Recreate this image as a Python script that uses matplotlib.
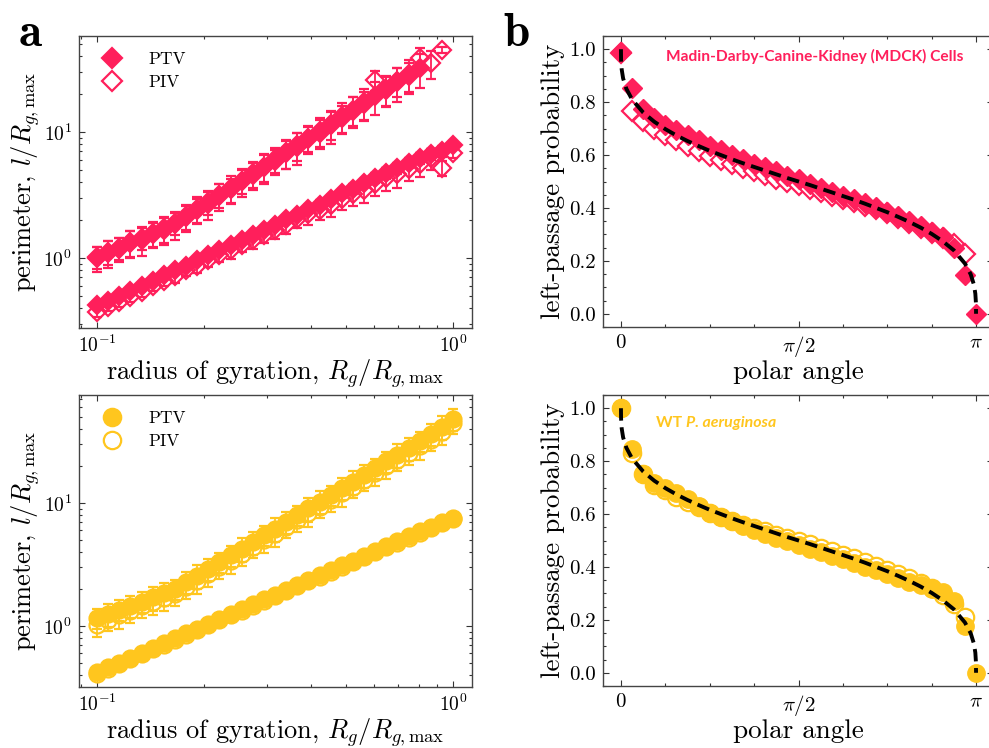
import numpy as np
import matplotlib.pyplot as plt
from matplotlib.lines import Line2D
from matplotlib.ticker import MultipleLocator, FixedLocator, NullFormatter, LogLocator

plt.rcParams.update({
    'font.family': 'serif',
    'font.serif': ['cmr10'],
    'mathtext.fontset': 'cm',
    'axes.formatter.use_mathtext': True,
    'axes.unicode_minus': False,
})

PINK = '#FF1F5B'
GOLD = '#FFC61E'
nan = np.nan

# --- panel a: perimeter vs radius of gyration (log-spaced bins) ---
rg = np.logspace(-1, 0, 33)

mdck_ptv_hull = [1.00, 1.10, 1.18, 1.31, 1.40, 1.55, 1.68, 1.86, 2.10, 2.42, 2.70,
                 3.12, 3.50, 4.05, 4.55, 5.25, 5.90, 6.80, 7.65, 8.80, 9.90, 11.4,
                 12.8, 14.8, 16.6, 19.2, 21.5, 24.9, 27.8, 32.2, nan, nan, nan]
mdck_piv_hull = [1.02, 1.12, 1.20, 1.33, 1.44, 1.58, 1.72, 1.90, 2.15, 2.46, 2.78,
                 3.18, 3.60, 4.10, 4.70, 5.30, 6.10, 6.90, 7.90, 9.00, 10.2, 11.6,
                 13.4, 15.0, 17.2, 26.0, 22.0, 25.5, 29.0, 38.5, 35.0, 45.0, nan]
mdck_ptv_ext = [0.42, 0.455, 0.50, 0.55, 0.60, 0.66, 0.73, 0.80, 0.87, 0.96, 1.05,
                1.15, 1.27, 1.38, 1.52, 1.68, 1.84, 2.02, 2.20, 2.45, 2.65, 2.95,
                3.25, 3.55, 3.95, 4.35, 4.70, 5.20, 5.70, 6.20, 6.70, 7.00, 7.90]
mdck_piv_ext = [0.37, 0.41, 0.445, 0.49, 0.54, 0.60, 0.66, 0.72, 0.80, 0.87, 0.96,
                1.05, 1.15, 1.27, 1.38, 1.52, 1.68, 1.83, 2.05, 2.22, 2.40, 2.62,
                2.95, 3.20, 3.45, 3.85, 4.30, 4.60, 5.10, 5.60, 6.20, 5.20, 6.85]

# relative error of each bin
mdck_ptv_hull_err = [0.22, 0.25, 0.21, 0.24, 0.26, 0.22, 0.24, 0.25, 0.23, 0.22, 0.26,
                     0.24, 0.22, 0.25, 0.24, 0.27, 0.23, 0.25, 0.28, 0.24, 0.26, 0.29,
                     0.25, 0.27, 0.26, 0.29, 0.27, 0.30, 0.28, 0.30, nan, nan, nan]
mdck_piv_hull_err = [0.20, 0.22, 0.19, 0.23, 0.20, 0.22, 0.24, 0.20, 0.22, 0.24, 0.21,
                     0.22, 0.25, 0.22, 0.24, 0.25, 0.22, 0.26, 0.25, 0.23, 0.26, 0.25,
                     0.27, 0.26, 0.28, 0.18, 0.27, 0.26, 0.28, 0.20, 0.25, 0.05, nan]
mdck_ptv_ext_err = [0.06, 0.06, 0.05, 0.06, 0.06, 0.05, 0.06, 0.06, 0.06, 0.05, 0.06,
                    0.06, 0.06, 0.05, 0.06, 0.07, 0.06, 0.07, 0.06, 0.07, 0.08, 0.07,
                    0.08, 0.09, 0.08, 0.09, 0.10, 0.10, 0.09, 0.10, 0.10, 0.10, 0.07]
mdck_piv_ext_err = [0.08, 0.08, 0.09, 0.08, 0.10, 0.09, 0.10, 0.12, 0.10, 0.12, 0.11,
                    0.12, 0.14, 0.12, 0.14, 0.13, 0.16, 0.15, 0.16, 0.18, 0.16, 0.19,
                    0.18, 0.19, 0.21, 0.19, 0.21, 0.22, 0.20, 0.22, 0.19, 0.14, 0.10]

pa_ptv_hull = [1.16, 1.25, 1.36, 1.46, 1.58, 1.71, 1.85, 2.00, 2.27, 2.57, 2.92,
               3.31, 3.75, 4.25, 4.82, 5.47, 6.20, 7.03, 7.97, 9.04, 10.25, 11.6,
               13.2, 14.9, 16.9, 19.2, 21.8, 24.7, 28.0, 31.9, 36.5, 41.8, 48.5]
pa_piv_hull = [1.02, 1.12, 1.22, 1.33, 1.44, 1.56, 1.69, 1.83, 2.06, 2.33, 2.65,
               3.00, 3.40, 3.86, 4.38, 4.97, 5.64, 6.40, 7.25, 8.22, 9.33, 10.6,
               12.0, 13.6, 15.4, 17.5, 19.8, 22.5, 25.5, 28.9, 32.8, 37.6, 44.6]
pa_ptv_ext = [0.420, 0.460, 0.504, 0.552, 0.604, 0.662, 0.725, 0.794, 0.869, 0.952,
              1.043, 1.142, 1.251, 1.370, 1.500, 1.643, 1.799, 1.971, 2.158, 2.364,
              2.589, 2.835, 3.105, 3.401, 3.724, 4.079, 4.467, 4.892, 5.358, 5.868,
              6.426, 7.000, 7.600]
pa_piv_ext = [0.410, 0.447, 0.490, 0.537, 0.588, 0.644, 0.705, 0.772, 0.846, 0.926,
              1.015, 1.111, 1.217, 1.333, 1.460, 1.599, 1.751, 1.918, 2.100, 2.300,
              2.520, 2.760, 3.020, 3.310, 3.625, 3.970, 4.350, 4.760, 5.215, 5.710,
              6.250, 6.850, 7.450]

pa_ptv_hull_err = [0.19, 0.21, 0.19, 0.20, 0.19, 0.22, 0.21, 0.19, 0.20, 0.22, 0.21,
                   0.19, 0.20, 0.22, 0.21, 0.19, 0.22, 0.20, 0.19, 0.22, 0.21, 0.19,
                   0.20, 0.22, 0.21, 0.19, 0.20, 0.22, 0.21, 0.19, 0.20, 0.22, 0.20]
pa_piv_hull_err = [0.20, 0.19, 0.22, 0.20, 0.19, 0.21, 0.22, 0.20, 0.19, 0.22, 0.21,
                   0.19, 0.22, 0.20, 0.19, 0.21, 0.22, 0.19, 0.20, 0.22, 0.19, 0.21,
                   0.22, 0.20, 0.19, 0.22, 0.21, 0.19, 0.20, 0.22, 0.19, 0.21, 0.19]
pa_ptv_ext_err = [0.05, 0.05, 0.04, 0.05, 0.05, 0.04, 0.05, 0.05, 0.05, 0.04, 0.05,
                  0.05, 0.05, 0.04, 0.05, 0.05, 0.05, 0.05, 0.04, 0.05, 0.05, 0.05,
                  0.05, 0.06, 0.06, 0.06, 0.07, 0.07, 0.07, 0.08, 0.08, 0.09, 0.09]
pa_piv_ext_err = [0.05, 0.06, 0.05, 0.05, 0.06, 0.05, 0.05, 0.06, 0.05, 0.06, 0.05,
                  0.06, 0.05, 0.06, 0.06, 0.05, 0.06, 0.06, 0.05, 0.06, 0.06, 0.06,
                  0.06, 0.07, 0.07, 0.07, 0.07, 0.08, 0.08, 0.08, 0.09, 0.09, 0.09]

# --- panel b: left-passage probability vs polar angle ---
polar = np.linspace(0, np.pi, 33)

mdck_ptv_lp = [0.99, 0.855, 0.775, 0.74, 0.715, 0.695, 0.675, 0.655, 0.635, 0.618,
               0.60, 0.585, 0.568, 0.553, 0.538, 0.522, 0.508, 0.49, 0.475, 0.46,
               0.447, 0.432, 0.417, 0.402, 0.386, 0.368, 0.35, 0.33, 0.31, 0.29,
               0.25, 0.145, 0.0]
mdck_piv_lp = [0.985, 0.765, 0.728, 0.70, 0.675, 0.655, 0.635, 0.615, 0.598, 0.582,
               0.567, 0.552, 0.538, 0.524, 0.51, 0.497, 0.485, 0.472, 0.46, 0.447,
               0.435, 0.422, 0.408, 0.395, 0.38, 0.363, 0.345, 0.325, 0.305, 0.288,
               0.265, 0.225, nan]
pa_ptv_lp = [1.0, 0.845, 0.752, 0.718, 0.70, 0.678, 0.655, 0.632, 0.605, 0.59,
             0.575, 0.556, 0.54, 0.524, 0.51, 0.497, 0.483, 0.468, 0.455, 0.443,
             0.43, 0.415, 0.40, 0.387, 0.372, 0.357, 0.343, 0.33, 0.315, 0.305,
             0.27, 0.175, 0.0]
pa_piv_lp = [1.0, 0.83, 0.75, 0.71, 0.69, 0.665, 0.645, 0.625, 0.605, 0.59,
             0.575, 0.56, 0.547, 0.535, 0.522, 0.51, 0.497, 0.485, 0.472, 0.46,
             0.447, 0.434, 0.42, 0.405, 0.39, 0.375, 0.358, 0.34, 0.32, 0.295,
             0.26, 0.212, nan]

# SLE (kappa = 6) prediction, angle given in units of pi
sle_angle = [0, 0.0003, 0.002, 0.006, 0.015, 0.03125, 0.0625, 0.09375, 0.125,
             0.15625, 0.1875, 0.21875, 0.25, 0.28125, 0.3125, 0.34375, 0.375,
             0.40625, 0.4375, 0.46875, 0.5, 0.53125, 0.5625, 0.59375, 0.625,
             0.65625, 0.6875, 0.71875, 0.75, 0.78125, 0.8125, 0.84375, 0.875,
             0.90625, 0.9375, 0.96875, 0.985, 0.994, 0.998, 0.9997, 1.0]
sle_prob = [1.0, 0.960, 0.924, 0.890, 0.851, 0.810, 0.761, 0.726, 0.698, 0.674,
            0.653, 0.634, 0.616, 0.600, 0.584, 0.569, 0.555, 0.541, 0.527, 0.513,
            0.5, 0.487, 0.473, 0.459, 0.445, 0.431, 0.416, 0.400, 0.384, 0.366,
            0.347, 0.326, 0.302, 0.274, 0.240, 0.190, 0.149, 0.110, 0.076, 0.040,
            0.0]


def style_axes(ax, tick_size):
    ax.tick_params(which='both', direction='in', top=True, right=True,
                   width=0.8, color='#333333', labelsize=tick_size)
    ax.tick_params(which='major', length=4.5, pad=5)
    ax.tick_params(which='minor', length=2.5)
    for s in ax.spines.values():
        s.set_linewidth(1.0)
        s.set_color('#444444')


def perimeter_panel(ax, color, marker, ms, series, ylim):
    ax.set_xscale('log')
    ax.set_yscale('log')
    # open PIV markers are hollow, so their error bars show through
    for y, err, filled in series:
        y = np.array(y)
        e = y * np.array(err)
        ax.errorbar(rg, y, yerr=e, fmt=marker, ms=ms, color=color,
                    mfc=color if filled else 'none', mec=color, mew=1.6,
                    ecolor=color, elinewidth=1.3, capsize=3.5, capthick=1.3,
                    zorder=2 if filled else 3)
    ax.set_xlim(0.089, 1.13)
    ax.set_ylim(*ylim)
    ax.xaxis.set_minor_formatter(NullFormatter())
    ax.yaxis.set_minor_formatter(NullFormatter())
    ax.yaxis.set_major_locator(LogLocator(base=10, numticks=10))
    ax.yaxis.set_minor_locator(LogLocator(base=10, subs=np.arange(2, 10), numticks=10))
    ax.set_xlabel(r'radius of gyration, $R_g/R_{g,\mathrm{max}}$', fontsize=19, labelpad=1)
    ax.set_ylabel(r'perimeter, $l/R_{g,\mathrm{max}}$', fontsize=19, labelpad=1)
    style_axes(ax, 14)
    handles = [Line2D([], [], ls='none', marker=marker, ms=ms + 1, color=color, mec=color, mew=1.6),
               Line2D([], [], ls='none', marker=marker, ms=ms + 1, color=color, mfc='white', mec=color, mew=1.6)]
    ax.legend(handles, ['PTV', 'PIV'], loc='upper left', frameon=False, fontsize=12.5,
              handletextpad=1.1, borderaxespad=0.4, labelspacing=0.45, borderpad=0.5)


def passage_panel(ax, color, marker, ms, ptv, piv):
    ax.plot(polar, piv, ls='none', marker=marker, ms=ms, mfc='white', mec=color, mew=1.6, zorder=2)
    ax.plot(polar, ptv, ls='none', marker=marker, ms=ms, color=color, mec=color, zorder=3)
    ax.plot(np.array(sle_angle) * np.pi, sle_prob, color='black', lw=2.8,
            ls=(0, (3.2, 1.7)), zorder=4)
    ax.set_xlim(-0.159, np.pi + 0.15)
    ax.set_ylim(-0.05, 1.05)
    ax.xaxis.set_major_locator(FixedLocator([0, np.pi / 2, np.pi]))
    ax.set_xticklabels(['$0$', r'$\pi/2$', r'$\pi$'])
    ax.xaxis.set_minor_locator(MultipleLocator(np.pi / 8))
    ax.yaxis.set_major_locator(MultipleLocator(0.2))
    ax.yaxis.set_minor_locator(MultipleLocator(0.05))
    ax.yaxis.set_major_formatter(plt.FuncFormatter(lambda v, p: f'{v:.1f}'))
    ax.set_xlabel('polar angle', fontsize=19.5, labelpad=1)
    ax.set_ylabel('left-passage probability', fontsize=19.5, labelpad=3)
    style_axes(ax, 15)


fig = plt.figure(figsize=(9.89, 7.48), dpi=100)
W, H = 989, 748


def add_axes(left, top, right, bottom):
    return fig.add_axes([left / W, 1 - bottom / H, (right - left) / W, (bottom - top) / H])


ax_a1 = add_axes(79, 36, 472, 328)
ax_a2 = add_axes(79, 395, 472, 687)
ax_b1 = add_axes(603, 36, 993, 327)
ax_b2 = add_axes(603, 395, 993, 686)

perimeter_panel(ax_a1, PINK, 'D', 8.8,
                [(mdck_ptv_hull, mdck_ptv_hull_err, True),
                 (mdck_ptv_ext, mdck_ptv_ext_err, True),
                 (mdck_piv_hull, mdck_piv_hull_err, False),
                 (mdck_piv_ext, mdck_piv_ext_err, False)],
                (0.278, 57.8))
perimeter_panel(ax_a2, GOLD, 'o', 11.5,
                [(pa_ptv_hull, pa_ptv_hull_err, True),
                 (pa_ptv_ext, pa_ptv_ext_err, True),
                 (pa_piv_hull, pa_piv_hull_err, False),
                 (pa_piv_ext, pa_piv_ext_err, False)],
                (0.319, 75.5))

passage_panel(ax_b1, PINK, 'D', 9.8, mdck_ptv_lp, mdck_piv_lp)
passage_panel(ax_b2, GOLD, 'o', 12.5, pa_ptv_lp, pa_piv_lp)

ax_b1.text(0.542, 0.928, 'Madin-Darby-Canine-Kidney (MDCK) Cells', transform=ax_b1.transAxes,
           ha='center', va='center', color=PINK, fontsize=11.2, fontweight='bold', family='Lato')
wt = ax_b2.text(0.135, 0.904, 'WT ', transform=ax_b2.transAxes, ha='left', va='center',
                color=GOLD, fontsize=11.4, fontweight='bold', family='Lato')
ax_b2.annotate('P. aeruginosa', xy=(1, 0.5), xycoords=wt, ha='left', va='center',
               color=GOLD, fontsize=11.4, fontweight='bold', fontstyle='italic', family='Lato')

fig.text(19 / W, 1 - 46 / H, 'a', fontsize=34, family='cmb10', ha='left', va='baseline')
fig.text(503 / W, 1 - 46 / H, 'b', fontsize=34, family='cmb10', ha='left', va='baseline')

fig.savefig('out.png', dpi=100)
